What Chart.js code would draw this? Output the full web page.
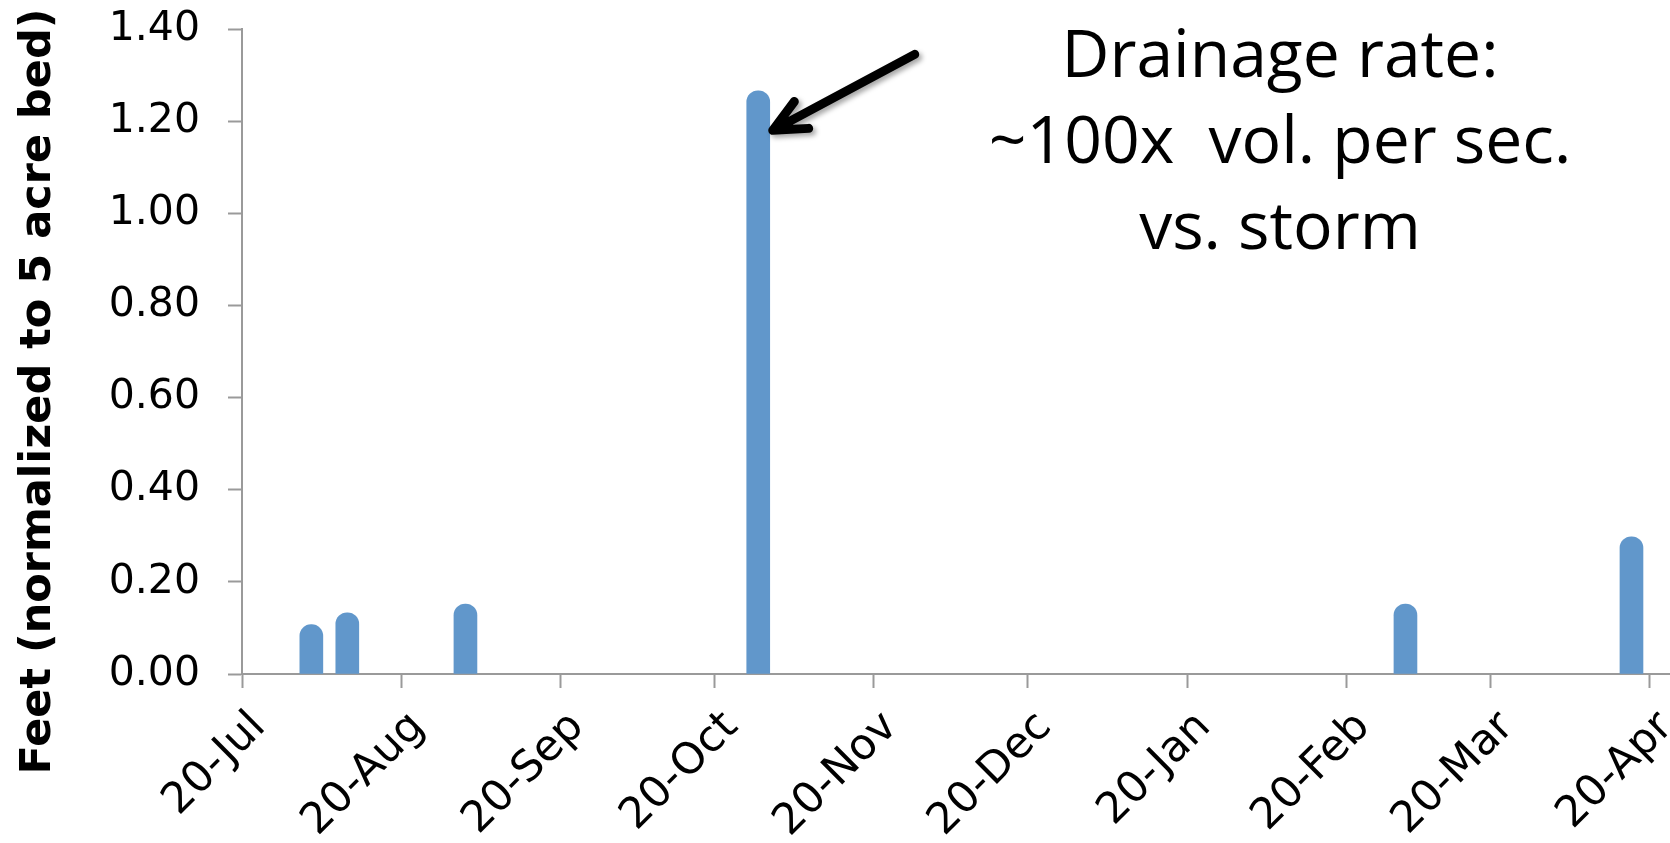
<!DOCTYPE html>
<html>
<head>
<meta charset="utf-8">
<script src="https://cdn.jsdelivr.net/npm/chart.js@4/dist/chart.umd.min.js"></script>
<style>
  html, body { margin: 0; padding: 0; background: #fff; }
  #wrap { width: 1670px; height: 843px; }
</style>
</head>
<body>
<div id="wrap"><canvas id="myChart" width="1670" height="843"></canvas></div>
<script>
// data
const startDate = "2012-07-20";
const endDate = "2013-04-24";
const barDates = ["2012-08-02", "2012-08-09", "2012-09-01", "2012-10-28", "2013-03-03", "2013-04-16"];
const barValues = [0.107, 0.133, 0.152, 1.266, 0.152, 0.298];
const tickDates = ["2012-07-20", "2012-08-20", "2012-09-20", "2012-10-20", "2012-11-20",
  "2012-12-20", "2013-01-20", "2013-02-20", "2013-03-20", "2013-04-20"];
const tickLabels = ["20-Jul", "20-Aug", "20-Sep", "20-Oct", "20-Nov",
  "20-Dec", "20-Jan", "20-Feb", "20-Mar", "20-Apr"];
const yTitle = "Feet (normalized to 5 acre bed)";
const noteLines = ["Drainage rate:", "~100x  vol. per sec.", "vs. storm"];
const arrowBar = 3;
const arrowValue = 1.18;

//

const dayOf = (d) => (Date.parse(d) - Date.parse(startDate)) / 86400000;

const points = barDates.map((d, i) => ({ x: dayOf(d) + 0.5, y: barValues[i] }));

const axisGrey = "#9a9a9a";

const extras = {
  id: "extras",
  afterDraw(chart) {
    const ctx = chart.ctx;
    const area = chart.chartArea;

    // y title
    ctx.save();
    ctx.translate(50, (area.top + area.bottom) / 2 + 40);
    ctx.rotate(-Math.PI / 2);
    ctx.font = "bold 43px 'DejaVu Sans'";
    ctx.fillStyle = "#000";
    ctx.textAlign = "center";
    ctx.textBaseline = "alphabetic";
    ctx.fillText(yTitle, 0, 0);
    ctx.restore();

    // note text
    ctx.save();
    ctx.font = "66px 'Open Sans'";
    ctx.fillStyle = "#000";
    ctx.textAlign = "center";
    ctx.textBaseline = "alphabetic";
    noteLines.forEach((t, i) => ctx.fillText(t, 1280, 77 + i * 86));
    ctx.restore();

    // arrow pointing at the tall bar
    const bar = chart.getDatasetMeta(0).data[arrowBar];
    const tipX = bar.x + bar.width / 2 + 3;
    const tipY = chart.scales.y.getPixelForValue(arrowValue);
    const tailX = tipX + 142, tailY = tipY - 76;
    const ang = Math.atan2(tailY - tipY, tailX - tipX);
    const head = 36, spread = 25 * Math.PI / 180;
    ctx.save();
    ctx.shadowColor = "rgba(0,0,0,0.35)";
    ctx.shadowBlur = 5;
    ctx.shadowOffsetX = 3;
    ctx.shadowOffsetY = 3;
    ctx.strokeStyle = "#000";
    ctx.lineWidth = 9;
    ctx.lineCap = "round";
    ctx.lineJoin = "round";
    ctx.beginPath();
    ctx.moveTo(tailX, tailY);
    ctx.lineTo(tipX, tipY);
    ctx.moveTo(tipX + head * Math.cos(ang - spread), tipY + head * Math.sin(ang - spread));
    ctx.lineTo(tipX, tipY);
    ctx.lineTo(tipX + head * Math.cos(ang + spread), tipY + head * Math.sin(ang + spread));
    ctx.stroke();
    ctx.restore();
  },
};

const data = {
  datasets: [
    {
      label: "Feet",
      data: points,
      backgroundColor: "#6197cb",
      borderWidth: 0,
      barThickness: 23,
      borderRadius: 12,
      borderSkipped: "start",
    },
  ],
};

const config = {
  type: "bar",
  data: data,
  options: {
    responsive: false,
    animation: false,
    layout: { padding: { top: 29, right: 0, left: 0, bottom: 0 } },
    plugins: { legend: { display: false }, tooltip: { enabled: false } },
    scales: {
      x: {
        type: "linear",
        offset: false,
        min: 0,
        max: dayOf(endDate),
        z: 1,
        grid: { display: true, drawOnChartArea: false, offset: false, tickLength: 14, tickColor: axisGrey, tickWidth: 2 },
        border: { display: true, color: axisGrey, width: 2 },
        afterBuildTicks: (scale) => {
          scale.ticks = tickDates.map((d) => ({ value: dayOf(d) }));
        },
        afterFit: (scale) => {
          scale.height = 843 - 674;
          scale.paddingLeft = 0;
          scale.paddingRight = 0;
        },
        ticks: {
          autoSkip: false,
          minRotation: 45,
          maxRotation: 45,
          padding: 14,
          labelOffset: 17,
          color: "#000",
          font: { family: "DejaVu Sans", size: 43 },
          callback: (v, i) => tickLabels[i],
        },
      },
      y: {
        min: 0,
        max: 1.4,
        grid: { display: true, drawOnChartArea: false, tickLength: 14, tickColor: axisGrey, tickWidth: 2 },
        border: { display: true, color: axisGrey, width: 2 },
        afterFit: (scale) => {
          scale.width = 242;
          scale.paddingTop = 0;
          scale.paddingBottom = 0;
        },
        ticks: {
          stepSize: 0.2,
          padding: 28,
          color: "#000",
          font: { family: "DejaVu Sans", size: 41 },
          callback: (v) => v.toFixed(2),
        },
      },
    },
  },
  plugins: [extras],
};

const myChart = new Chart(document.getElementById("myChart"), config);
</script>
</body>
</html>
